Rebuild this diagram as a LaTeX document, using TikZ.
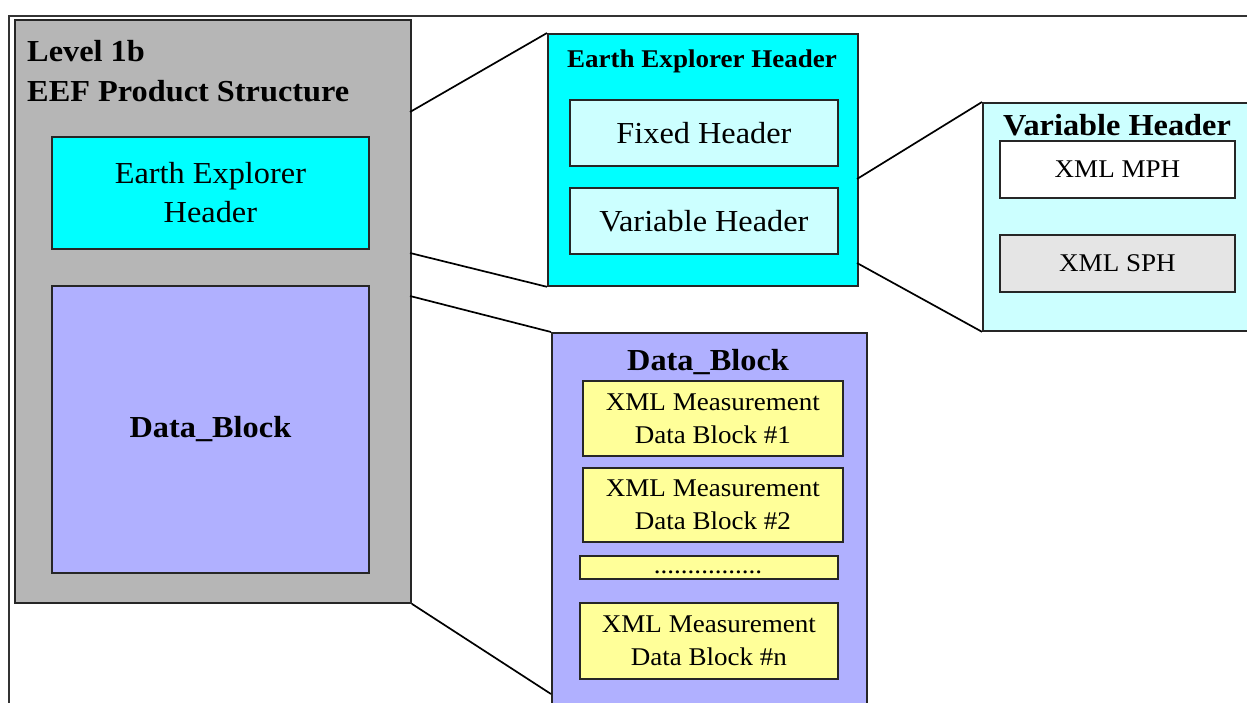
\documentclass[tikz,border=0pt]{standalone}
\usepackage{fontspec}
\setmainfont[FakeStretch=1.06]{Liberation Serif}
\definecolor{grayfill}{RGB}{182,182,182}
\definecolor{cyanfill}{RGB}{0,255,255}
\definecolor{lcyanfill}{RGB}{204,255,255}
\definecolor{purplefill}{RGB}{176,176,255}
\definecolor{yellowfill}{RGB}{255,255,153}
\definecolor{lgrayfill}{RGB}{229,229,229}
\newcommand\fsBig{\fontsize{30.5}{39}\selectfont}
\newcommand\fsBigBf{\fontsize{30.5}{39}\selectfont\bfseries}
\newcommand\fsSmall{\fontsize{25.5}{33}\selectfont}
\newcommand\fsSmallBf{\fontsize{25.5}{33}\selectfont\bfseries}
\begin{document}
\begin{tikzpicture}[x=1pt,y=-1pt,
  box/.style={draw=black!85, line width=1.8pt, inner sep=2pt, anchor=north west, align=center},
  conn/.style={draw=black, line width=1.7pt},
  frame/.style={draw=black!80, line width=1.4pt}]
\useasboundingbox (0,0) rectangle (1247,702);
% outer frame
\coordinate (fBL) at (9,710);
\coordinate (fTL) at (9,16);
\coordinate (fTR) at (1260,16);
\draw[frame] (fBL) -- (fTL) -- (fTR);

% left gray structure
\node[box, fill=grayfill, minimum width=396, minimum height=583] (gray) at (14,19) {};
\node[anchor=base west, font=\fsBigBf, inner sep=0] (t1) at (27,61) {Level 1b};
\node[anchor=base west, font=\fsBigBf, inner sep=0] (t2) at (27,101) {EEF Product Structure};
\node[box, fill=cyanfill, minimum width=317, minimum height=112, font=\fsBig] (eeh1) at (51,136) {Earth Explorer\\Header};
\node[box, fill=purplefill, minimum width=317, minimum height=287, font=\fsBigBf] (db1) at (51,285) {Data\_Block};

% Earth Explorer Header detail
\node[box, fill=cyanfill, minimum width=310, minimum height=252] (eeh) at (547,33) {};
\node[anchor=base, font=\fsSmallBf, inner sep=0] (eehT) at (702,67) {Earth Explorer Header};
\node[box, fill=lcyanfill, minimum width=268, minimum height=66, font=\fsBig] (fixed) at (569,99) {Fixed Header};
\node[box, fill=lcyanfill, minimum width=268, minimum height=66, font=\fsBig] (var) at (569,187) {Variable Header};

% Variable Header detail
\node[box, fill=lcyanfill, minimum width=290, minimum height=228] (vh) at (982,102) {};
\node[anchor=base, font=\fsBigBf, inner sep=0] (vhT) at (1117,135) {Variable Header};
\node[box, fill=white, minimum width=235, minimum height=57, font=\fsSmall] (mph) at (999,140) {XML MPH};
\node[box, fill=lgrayfill, minimum width=235, minimum height=57, font=\fsSmall] (sph) at (999,234) {XML SPH};

% Data_Block detail
\node[box, fill=purplefill, minimum width=315, minimum height=420] (db) at (551,332) {};
\node[anchor=base, font=\fsBigBf, inner sep=0] (dbT) at (708,370) {Data\_Block};
\node[box, fill=yellowfill, minimum width=260, minimum height=75, font=\fsSmall] (y1) at (582,380) {XML Measurement\\Data Block \#1};
\node[box, fill=yellowfill, minimum width=260, minimum height=74, font=\fsSmall] (y2) at (582,467) {XML Measurement\\Data Block \#2};
\node[box, fill=yellowfill, minimum width=258, minimum height=23] (y3) at (579,555) {};
\node[anchor=base, font=\fsSmall, inner sep=0] (dots) at (708,573) {................};
\node[box, fill=yellowfill, minimum width=258, minimum height=76, font=\fsSmall] (yn) at (579,602) {XML Measurement\\Data Block \#n};

% connectors
\coordinate (g1) at (410,112);
\coordinate (g2) at (410,253);
\coordinate (g3) at (410,296);
\coordinate (d4) at (551,694);
\coordinate (e1) at (857,179);
\coordinate (e2) at (857,263);
\draw[conn] (g1) -- (eeh.north west);
\draw[conn] (g2) -- (eeh.south west);
\draw[conn] (g3) -- (db.north west);
\draw[conn] (gray.south east) -- (d4);
\draw[conn] (e1) -- (vh.north west);
\draw[conn] (e2) -- (vh.south west);
\end{tikzpicture}
\end{document}
